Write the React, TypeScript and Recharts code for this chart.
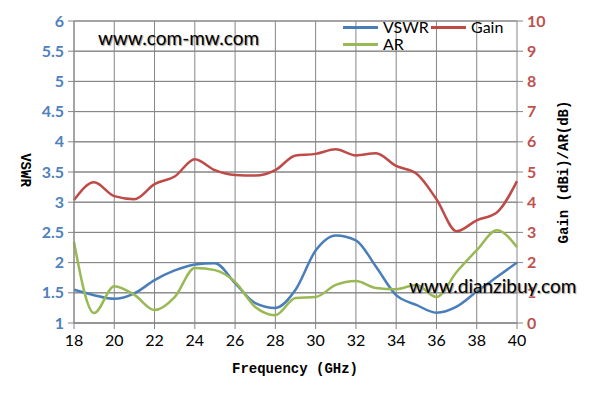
import { CartesianGrid, ComposedChart, Line, ReferenceLine, XAxis, YAxis } from "recharts";

const freqs = [18, 19, 20, 21, 22, 23, 24, 25, 26, 27, 28, 29, 30, 31, 32, 33, 34, 35, 36, 37, 38, 39, 40];
const vswr = [1.55, 1.46, 1.4, 1.49, 1.71, 1.87, 1.97, 1.99, 1.66, 1.33, 1.25, 1.55, 2.2, 2.45, 2.37, 1.93, 1.46, 1.3, 1.17, 1.27, 1.52, 1.76, 2.0];
const gain = [4.07, 4.66, 4.2, 4.1, 4.6, 4.85, 5.42, 5.06, 4.9, 4.88, 5.06, 5.55, 5.6, 5.75, 5.55, 5.62, 5.2, 4.95, 4.1, 3.04, 3.4, 3.66, 4.7];
const ar = [2.68, 0.33, 1.22, 0.93, 0.43, 0.86, 1.82, 1.75, 1.36, 0.53, 0.26, 0.83, 0.86, 1.26, 1.39, 1.16, 1.12, 1.26, 0.86, 1.69, 2.41, 3.07, 2.51];

const xTicks = [18, 20, 22, 24, 26, 28, 30, 32, 34, 36, 38, 40];
const leftTicks = [1, 1.5, 2, 2.5, 3, 3.5, 4, 4.5, 5, 5.5, 6];
const rightTicks = [0, 1, 2, 3, 4, 5, 6, 7, 8, 9, 10];

const BLUE = "#4a7ebb";
const RED = "#be4b48";
const GREEN = "#98b954";
const GRID = "#868686";

const data = freqs.map((f, i) => ({ f, vswr: vswr[i], gain: gain[i], ar: ar[i] }));

const titleFont = "'Liberation Mono', monospace";
const bodyFont = "Lato, 'Open Sans', sans-serif";

// legend drawn as an overlay so it doesn't eat into the plot area
function LegendBox() {
  const item = (color: string, label: string, left: number, top: number) => (
    <div style={{ position: "absolute", left, top, display: "flex", alignItems: "center" }}>
      <span style={{ width: 35, height: 3, background: color, display: "inline-block" }} />
      <span style={{ marginLeft: 5, fontSize: 16, color: "#000", fontFamily: bodyFont, lineHeight: "18px" }}>{label}</span>
    </div>
  );
  return (
    <div style={{ position: "absolute", left: 343, top: 18, width: 180, height: 40 }}>
      {item(BLUE, "VSWR", 0, 0)}
      {item(RED, "Gain", 88, 0)}
      {item(GREEN, "AR", 0, 17)}
    </div>
  );
}

export default function App() {
  return (
    <div style={{ position: "absolute", left: 0, top: 0, width: 589, height: 404, background: "#fff" }}>
      <ComposedChart width={589} height={404} data={data} margin={{ top: 21, right: 0, bottom: 0, left: 0 }}>
        {/* right-axis ticks (0..10 by 1) land on the same rows as the left ones (1..6 by 0.5) */}
        <CartesianGrid yAxisId="r" stroke={GRID} strokeWidth={1} />
        <XAxis
          dataKey="f"
          type="number"
          domain={[18, 40]}
          ticks={xTicks}
          height={81}
          stroke={GRID}
          tickSize={6}
          tick={{ fill: "#000", fontSize: 16, fontFamily: bodyFont }}
          tickMargin={6}
        />
        <YAxis
          domain={[1, 6]}
          ticks={leftTicks}
          width={74}
          stroke={GRID}
          tickSize={6}
          tick={{ fill: "#4f81bd", fontSize: 16, fontWeight: 700, fontFamily: bodyFont }}
          tickMargin={4}
        />
        <YAxis
          yAxisId="r"
          orientation="right"
          domain={[0, 10]}
          ticks={rightTicks}
          width={72}
          axisLine={false}
          stroke={GRID}
          tickSize={6}
          tick={{ fill: "#c0504d", fontSize: 16, fontWeight: 700, fontFamily: bodyFont }}
          tickMargin={4}
        />
        {rightTicks.map((t) => (
          <ReferenceLine key={t} yAxisId="r" y={t} stroke={GRID} strokeWidth={1} />
        ))}
        <Line dataKey="vswr" type="monotone" stroke={BLUE} strokeWidth={2.5} dot={false} isAnimationActive={false} />
        <Line yAxisId="r" dataKey="gain" type="monotone" stroke={RED} strokeWidth={2.5} dot={false} isAnimationActive={false} />
        <Line yAxisId="r" dataKey="ar" type="monotone" stroke={GREEN} strokeWidth={2.5} dot={false} isAnimationActive={false} />
      </ComposedChart>

      <LegendBox />
      <div style={{ position: "absolute", left: 98, top: 26, fontSize: 19, fontFamily: bodyFont, color: "#000", textShadow: "1px 1px 1px #999" }}>
        www.com-mw.com
      </div>
      <div style={{ position: "absolute", left: 409, top: 274, fontSize: 19, fontFamily: bodyFont, color: "#000", textShadow: "1px 1px 1px #999" }}>
        www.dianzibuy.com
      </div>
      <div style={{ position: "absolute", left: 232, top: 361, fontSize: 14, fontWeight: 700, fontFamily: titleFont, color: "#000", whiteSpace: "nowrap" }}>
        Frequency (GHz)
      </div>
      <div
        style={{
          position: "absolute",
          left: 25,
          top: 170,
          transform: "translate(-50%, -50%) rotate(90deg)",
          fontSize: 14,
          fontWeight: 700,
          fontFamily: titleFont,
          color: "#000",
          whiteSpace: "nowrap",
        }}
      >
        VSWR
      </div>
      <div
        style={{
          position: "absolute",
          left: 564,
          top: 172,
          transform: "translate(-50%, -50%) rotate(-90deg)",
          fontSize: 14,
          fontWeight: 700,
          fontFamily: titleFont,
          color: "#000",
          whiteSpace: "nowrap",
        }}
      >
        Gain (dBi)/AR(dB)
      </div>
    </div>
  );
}
